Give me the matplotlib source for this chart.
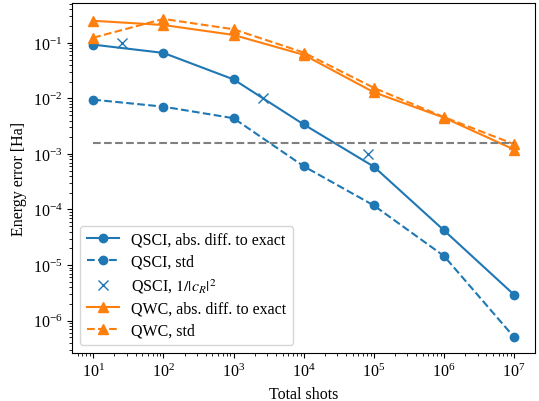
import matplotlib
matplotlib.use("Agg")
import matplotlib.pyplot as plt

plt.rcParams['font.family'] = ['Liberation Serif', 'DejaVu Serif']
plt.rcParams['mathtext.fontset'] = 'stix'
plt.rcParams['font.size'] = 11.5

shots = [1e1, 1e2, 1e3, 1e4, 1e5, 1e6, 1e7]

qsci_abs = [0.093, 0.066, 0.022, 0.0034, 5.9e-4, 4.2e-5, 2.9e-6]
qsci_std = [0.0095, 0.0071, 0.0044, 6.0e-4, 1.18e-4, 1.45e-5, 5.0e-7]

cr_shots = [26, 2650, 83000]
cr_err = [0.1, 0.01, 0.001]

qwc_abs = [0.25, 0.21, 0.139, 0.061, 0.0129, 0.0045, 0.0012]
qwc_std = [0.124, 0.27, 0.176, 0.067, 0.0155, 0.0046, 0.0015]

chem_acc = 1.6e-3

fig = plt.figure(figsize=(5.39, 4.02), dpi=100)
ax = fig.add_axes([0.134, 0.119, 0.859, 0.871])

ax.plot(shots, qsci_abs, 'o-', color='C0', label='QSCI, abs. diff. to exact')
ax.plot(shots, qsci_std, 'o--', color='C0', label='QSCI, std')
ax.plot(cr_shots, cr_err, 'x', color='C0', markersize=6.5, label=r'QSCI, $1/|c_R|^2$')
ax.plot(shots, qwc_abs, '^-', color='C1', markersize=7, label='QWC, abs. diff. to exact')
ax.plot(shots, qwc_std, '^--', color='C1', markersize=7, label='QWC, std')
ax.hlines(chem_acc, shots[0], shots[-1], colors='gray', linestyles='--')

ax.set_xscale('log')
ax.set_yscale('log')
ax.set_xlabel('Total shots')
ax.set_ylabel('Energy error [Ha]')
ax.legend(loc='lower left', labelspacing=0.38)

fig.savefig('out.png', dpi=100)
